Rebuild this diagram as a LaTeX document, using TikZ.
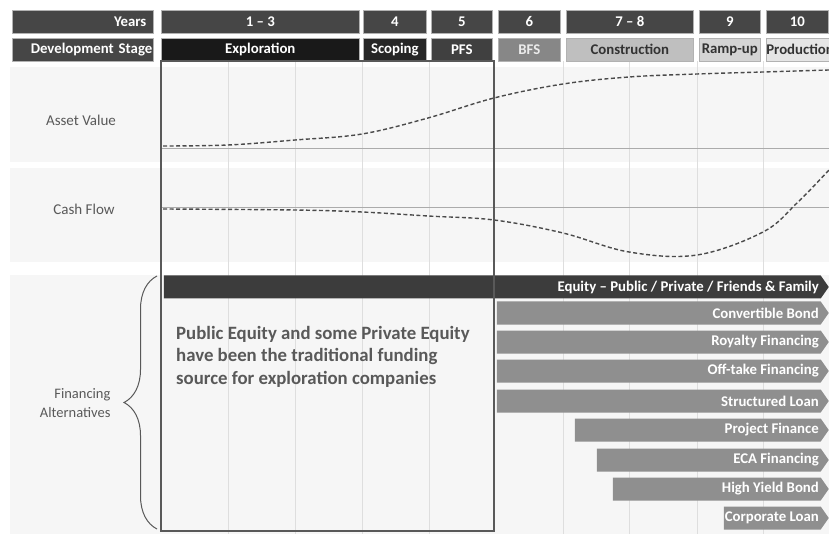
\documentclass[tikz,border=0pt]{standalone}
\usepackage{fontspec}
\setmainfont{Carlito}
\usetikzlibrary{positioning,shapes.symbols,decorations.pathreplacing}

\definecolor{yearfill}{HTML}{464646}
\definecolor{bandfill}{HTML}{F6F6F6}
\definecolor{gridgray}{HTML}{DEDEDE}
\definecolor{axisgray}{HTML}{ABABAB}
\definecolor{curvegray}{HTML}{4A4A4A}
\definecolor{labelgray}{HTML}{595959}
\definecolor{bargray}{HTML}{8F8F8F}
\definecolor{equityfill}{HTML}{3C3C3C}

\begin{document}
\begin{tikzpicture}[x=1pt, y=-1pt,
    hdr/.style={draw=gray!60, line width=0.6pt, minimum height=23pt, inner sep=0pt,
                anchor=north west, font=\bfseries\fontsize{14.8}{15}\selectfont},
    yr/.style={hdr, fill=yearfill, text=white},
    stage/.style={hdr, fill=#1, text=white},
    lstage/.style={hdr, fill=#1, text=black!80},
    rowlabel/.style={text=labelgray, font=\fontsize{15}{17}\selectfont},
    finbar/.style={shape=signal, signal to=east, signal pointer angle=110, fill=#1,
                   minimum height=23pt, inner sep=0pt, anchor=east},
    finbar/.default=bargray,
    bartext/.style={text=white, font=\bfseries\fontsize{14.8}{15}\selectfont, inner sep=0pt},
    curve/.style={curvegray, line width=1.4pt, dash pattern=on 4pt off 2.5pt},
    gridline/.style={gridgray, line width=0.7pt}]

    \useasboundingbox (0,0) rectangle (829,534);

    % Bands
    \fill[bandfill] (10,67) rectangle (829,162);
    \fill[bandfill] (10,168) rectangle (829,262);
    \fill[bandfill] (10,275) rectangle (829,534);

    % Grid
    \foreach \gx in {228,295,362,429,563,629,697,763}
        \draw[gridline] (\gx,61) -- (\gx,534);
    \draw[axisgray, line width=0.8pt] (161,148) -- (829,148);
    \draw[axisgray, line width=0.8pt] (161,207) -- (829,207);

    % Header rows
    \node[yr, minimum width=141pt, text width=127pt, inner xsep=7pt, align=right] (years) at (12,10) {Years};
    \node[yr, minimum width=198pt] (y13) at (161,10) {1 – 3};
    \node[yr, minimum width=63pt]  (y4)  at (363,10) {4};
    \node[yr, minimum width=61pt]  (y5)  at (431,10) {5};
    \node[yr, minimum width=62pt]  (y6)  at (498,10) {6};
    \node[yr, minimum width=127pt] (y78) at (566,10) {7 – 8};
    \node[yr, minimum width=61pt]  (y9)  at (699,10) {9};
    \node[yr, minimum width=62pt]  (y10) at (766,10) {10};

    \node[yr, minimum width=141pt, text width=139pt, inner xsep=1pt, align=right] (dev) at (12,38) {Development Stage};
    \node[stage=black!90, minimum width=198pt] (expl)  at (161,38) {Exploration};
    \node[stage=black!85, minimum width=63pt]  (scop)  at (363,38) {Scoping};
    \node[stage=black!75, minimum width=61pt]  (pfs)   at (431,38) {PFS};
    \node[stage=black!47, minimum width=62pt, text=white!92!black] (bfs) at (498,38) {BFS};
    \node[lstage=black!25, minimum width=127pt] (cons) at (566,38) {Construction};
    \node[lstage=black!17, minimum width=61pt]  (ramp) at (699,38) {Ramp-up};
    \node[lstage=black!10, minimum width=62pt]  (prod) at (766,38) {Production};

    % Row labels
    \node[rowlabel] (asset) at (81,120) {Asset Value};
    \node[rowlabel] (cash)  at (84,209) {Cash Flow};
    \node[rowlabel, align=right, anchor=east, font=\fontsize{14.5}{19}\selectfont] (fin) at (114,403) {Financing\\Alternatives};

    % Curves
    \draw[curve] plot[smooth, tension=0.6] coordinates {(163,146) (228,145) (295,140) (362,134)
        (428,118) (494,98) (563,84) (629,77) (697,74) (763,72) (829,70)};
    \draw[curve] plot[smooth, tension=0.6] coordinates {(163,209) (295,210) (362,212) (428,216)
        (494,220) (563,233) (629,252) (697,255) (763,232) (797,203) (829,170)};

    % Financing bars
    \node[finbar=equityfill, minimum width=665pt] (eq) at (829,287) {};
    \node[bartext, left=10pt of eq.east] {Equity – Public / Private / Friends \& Family};
    \node[finbar, minimum width=332pt] (cb) at (829,313) {};
    \node[bartext, left=10pt of cb.east] {Convertible Bond};
    \node[finbar, minimum width=332pt] (rf) at (829,342) {};
    \node[bartext, left=10pt of rf.east] {Royalty Financing};
    \node[finbar, minimum width=332pt] (ot) at (829,371) {};
    \node[bartext, left=10pt of ot.east] {Off-take Financing};
    \node[finbar, minimum width=332pt] (sl) at (829,401) {};
    \node[bartext, left=10pt of sl.east] {Structured Loan};
    \node[finbar, minimum width=254pt] (pf) at (829,430) {};
    \node[bartext, left=10pt of pf.east] {Project Finance};
    \node[finbar, minimum width=232pt] (eca) at (829,460) {};
    \node[bartext, left=10pt of eca.east] {ECA Financing};
    \node[finbar, minimum width=216pt] (hy) at (829,489) {};
    \node[bartext, left=10pt of hy.east] {High Yield Bond};
    \node[finbar, minimum width=105pt] (cl) at (829,518) {};
    \node[bartext, left=10pt of cl.east] {Corporate Loan};

    % Exploration frame and note
    \draw[black!65, line width=1.4pt] (161,61) rectangle (494,531);
    \node[anchor=north west, align=left, text=labelgray, inner sep=0pt,
          font=\bfseries\fontsize{18.8}{22.5}\selectfont] (note) at (176,326)
        {Public Equity and some Private Equity\\have been the traditional funding\\source for exploration companies};

    % Brace
    \draw[labelgray, line width=1pt, decorate, decoration={brace, amplitude=33pt}] (157,529) -- (157,276);

\end{tikzpicture}
\end{document}
